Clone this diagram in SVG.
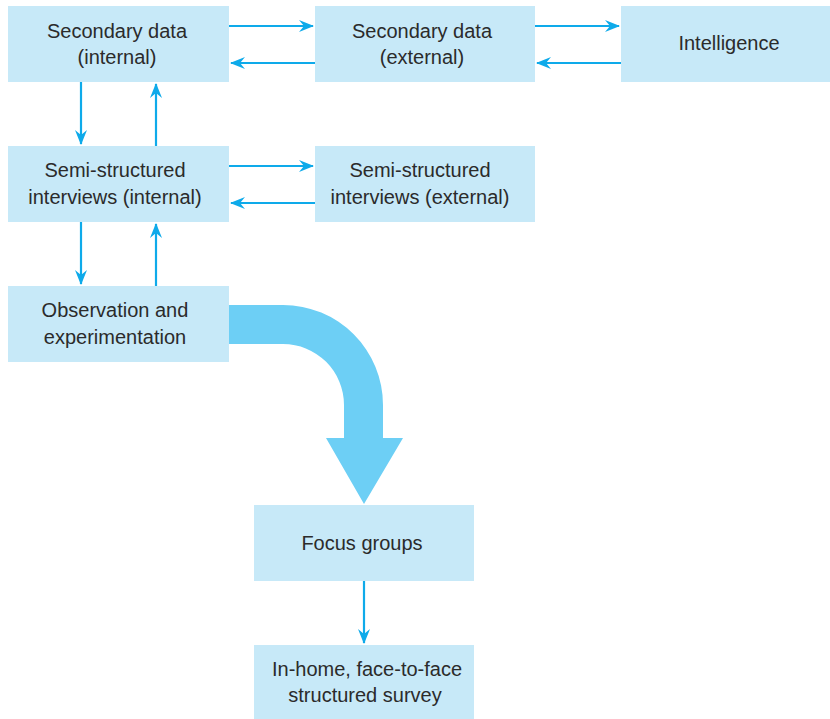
<svg xmlns="http://www.w3.org/2000/svg" width="830" height="719" viewBox="0 0 830 719">
  <style>
    .box { fill: #c7e9f8; }
    .lbl { font-family: "Liberation Sans", Arial, sans-serif; font-size: 20px; fill: #2b2b2b; text-anchor: middle; }
    .link { stroke: #0eaaea; stroke-width: 2.2; fill: none; marker-end: url(#tip); }
  </style>
  <defs>
    <marker id="tip" viewBox="0 0 15 12" refX="14" refY="6" markerWidth="15" markerHeight="12" markerUnits="userSpaceOnUse" orient="auto">
      <path d="M0,0 L15,6 L0,12 L5,6 Z" fill="#0eaaea"/>
    </marker>
  </defs>
  <rect width="830" height="719" fill="#ffffff"/>

  <g id="sec-int">
    <rect class="box" x="8" y="6" width="221" height="76"/>
    <text class="lbl" x="117" y="38">Secondary data</text>
    <text class="lbl" x="117" y="64">(internal)</text>
  </g>
  <g id="sec-ext">
    <rect class="box" x="315" y="6" width="220" height="76"/>
    <text class="lbl" x="422" y="38">Secondary data</text>
    <text class="lbl" x="422" y="64">(external)</text>
  </g>
  <g id="intelligence">
    <rect class="box" x="621" y="6" width="209" height="76"/>
    <text class="lbl" x="729" y="50">Intelligence</text>
  </g>
  <g id="semi-int">
    <rect class="box" x="8" y="146" width="221" height="76"/>
    <text class="lbl" x="115" y="177">Semi-structured</text>
    <text class="lbl" x="115" y="204">interviews (internal)</text>
  </g>
  <g id="semi-ext">
    <rect class="box" x="315" y="146" width="220" height="76"/>
    <text class="lbl" x="420" y="177">Semi-structured</text>
    <text class="lbl" x="420" y="204">interviews (external)</text>
  </g>
  <g id="observation">
    <rect class="box" x="8" y="286" width="221" height="76"/>
    <text class="lbl" x="115" y="317">Observation and</text>
    <text class="lbl" x="115" y="344">experimentation</text>
  </g>
  <g id="focus">
    <rect class="box" x="254" y="505" width="220" height="76"/>
    <text class="lbl" x="362" y="550">Focus groups</text>
  </g>
  <g id="survey">
    <rect class="box" x="254" y="645" width="220" height="74"/>
    <text class="lbl" x="367" y="676">In-home, face-to-face</text>
    <text class="lbl" x="365" y="702">structured survey</text>
  </g>

  <g id="connectors">
    <line class="link" x1="229" y1="26" x2="313" y2="26"/>
    <line class="link" x1="315" y1="63" x2="231" y2="63"/>
    <line class="link" x1="535" y1="26" x2="619" y2="26"/>
    <line class="link" x1="621" y1="63" x2="537" y2="63"/>
    <line class="link" x1="81" y1="82" x2="81" y2="144"/>
    <line class="link" x1="156" y1="146" x2="156" y2="84"/>
    <line class="link" x1="229" y1="166" x2="313" y2="166"/>
    <line class="link" x1="315" y1="203" x2="231" y2="203"/>
    <line class="link" x1="81" y1="222" x2="81" y2="284"/>
    <line class="link" x1="156" y1="286" x2="156" y2="224"/>
    <line class="link" x1="364" y1="581" x2="364" y2="643"/>
    <path id="flow" d="M229,305 H283 A100,100 0 0 1 383,405 V438 H403 L364,504 L326,438 H344 V405 A61,61 0 0 0 283,344 H229 Z" fill="#6dcff5"/>
  </g>
</svg>
